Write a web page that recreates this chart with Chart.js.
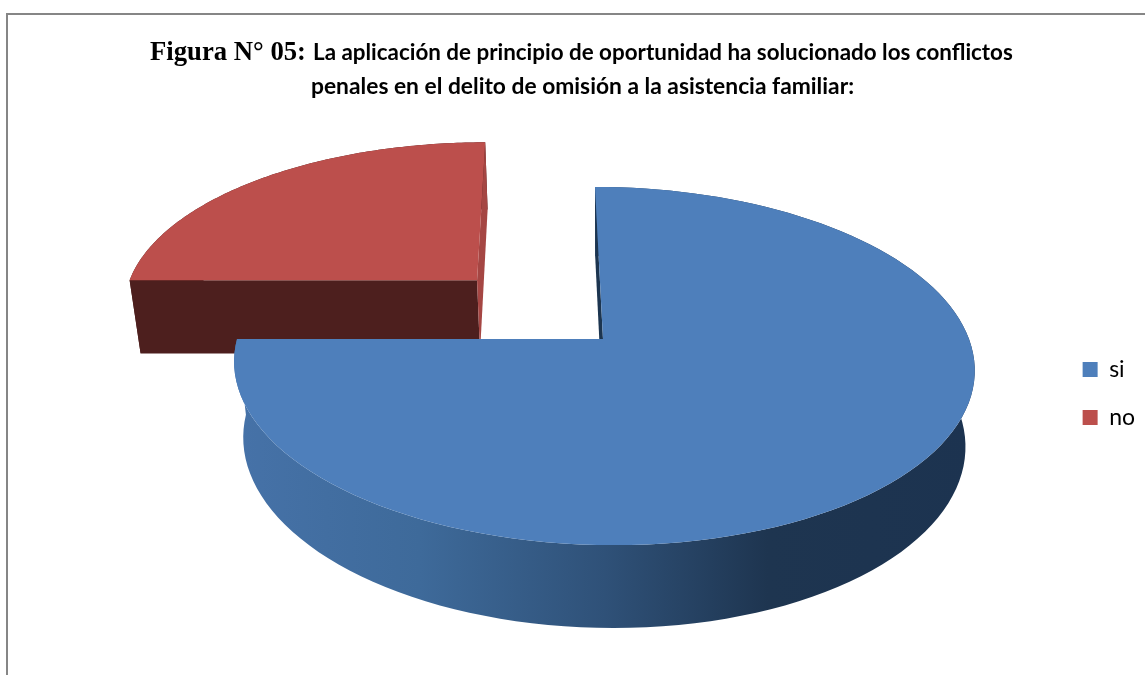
<!DOCTYPE html>
<html lang="es">
<head>
<meta charset="UTF-8">
<title>Figura 05</title>
<script src="https://cdn.jsdelivr.net/npm/chart.js"></script>
<style>
    html, body { margin: 0; background: #fff; }
    canvas { display: block; }
</style>
</head>
<body>
<canvas id="myChart" width="1145" height="675"></canvas>
<script>
const categories = ['si', 'no'];
const values = [75, 25];
const sliceColors = ['#4e7fbb', '#bc4f4c'];
const slicePull = [0, 0.5];

// camera for the tilted pie: maps pie coordinates (u right, v back, z down) to the page
const cam = { cx: 603, cy: 339, a: 366, b: 175, s: 9.2, d: 77.6, k: 0.151, l: 0, m: 0.025 };

function project(u, v, z) {
    const w = 1 + cam.k * v + cam.l * u + cam.m * z;
    return { x: cam.cx + (cam.a * u - cam.s * v) / w, y: cam.cy + (-cam.b * v + cam.d * z) / w };
}

function polygon(ctx, pts, fill) {
    ctx.beginPath();
    pts.forEach((p, i) => i ? ctx.lineTo(p.x, p.y) : ctx.moveTo(p.x, p.y));
    ctx.closePath();
    ctx.fillStyle = fill;
    ctx.fill();
}

function wallStyle(ctx, index) {
    if (index === 1) return '#4d1f1e';
    const g = ctx.createLinearGradient(235, 0, 975, 0);
    g.addColorStop(0, '#4672a8');
    g.addColorStop(0.25, '#3e6a9a');
    g.addColorStop(0.5, '#2f5178');
    g.addColorStop(0.72, '#1e3550');
    g.addColorStop(1, '#1c3350');
    return g;
}

const pie3d = {
    id: 'pie3d',
    beforeDatasetDraw(chart, args) {
        const ctx = chart.ctx;
        const arcs = args.meta.data;
        for (let i = arcs.length - 1; i >= 0; i--) {
            const el = arcs[i];
            const mid = (el.startAngle + el.endAngle) / 2;
            const ou = slicePull[i] * Math.cos(mid);
            const ov = -slicePull[i] * Math.sin(mid);
            const rim = z => {
                const pts = [];
                for (let t = 0; t <= 120; t++) {
                    const ang = el.startAngle + (el.endAngle - el.startAngle) * t / 120;
                    pts.push(project(ou + Math.cos(ang), ov - Math.sin(ang), z));
                }
                return pts;
            };
            const top = rim(0), bottom = rim(1);
            const apexTop = project(ou, ov, 0), apexBottom = project(ou, ov, 1);
            const wall = wallStyle(ctx, i);
            const n = top.length - 1;

            polygon(ctx, top.concat(bottom.slice().reverse()), wall);
            if (i === 1) {
                // pulled slice shows its front cut and a sliver of the back cut
                polygon(ctx, [apexTop, top[0], bottom[0], apexBottom], '#4d1f1e');
                polygon(ctx, [apexTop, top[n], bottom[n], apexBottom], '#a54643');
            } else {
                polygon(ctx, [apexTop, top[0], bottom[0], apexBottom], '#1c3550');
            }
            polygon(ctx, [apexTop].concat(top), sliceColors[i]);
        }
        return false;
    }
};

const frameAndTitle = {
    id: 'frameAndTitle',
    beforeDraw(chart) {
        const ctx = chart.ctx;
        ctx.save();
        ctx.fillStyle = '#868686';
        ctx.fillRect(6, 13, 1139, 2);
        ctx.fillRect(6, 13, 2, 662);
        ctx.fillStyle = '#000';
        ctx.textBaseline = 'alphabetic';
        ctx.textAlign = 'left';
        ctx.font = 'bold 26.7px "Liberation Serif"';
        ctx.fillText('Figura N° 05:', 150, 60);
        ctx.font = 'bold 22.4px Lato';
        ctx.fillText('La aplicación de principio de oportunidad ha solucionado los conflictos', 313, 60);
        ctx.font = 'bold 22.8px Lato';
        ctx.fillText('penales en el delito de omisión a la asistencia familiar:', 311, 94);
        ctx.restore();
    }
};

new Chart(document.getElementById('myChart'), {
    type: 'pie',
    data: {
        labels: categories,
        datasets: [{ data: values, backgroundColor: sliceColors, borderWidth: 0 }]
    },
    options: {
        responsive: false,
        animation: false,
        layout: { padding: { top: 112 } },
        plugins: {
            legend: {
                position: 'right',
                labels: {
                    boxWidth: 15,
                    boxHeight: 15,
                    padding: 25,
                    color: '#000',
                    font: { family: 'Lato', size: 23 }
                }
            },
            tooltip: { enabled: false }
        }
    },
    plugins: [frameAndTitle, pie3d]
});
</script>
</body>
</html>
